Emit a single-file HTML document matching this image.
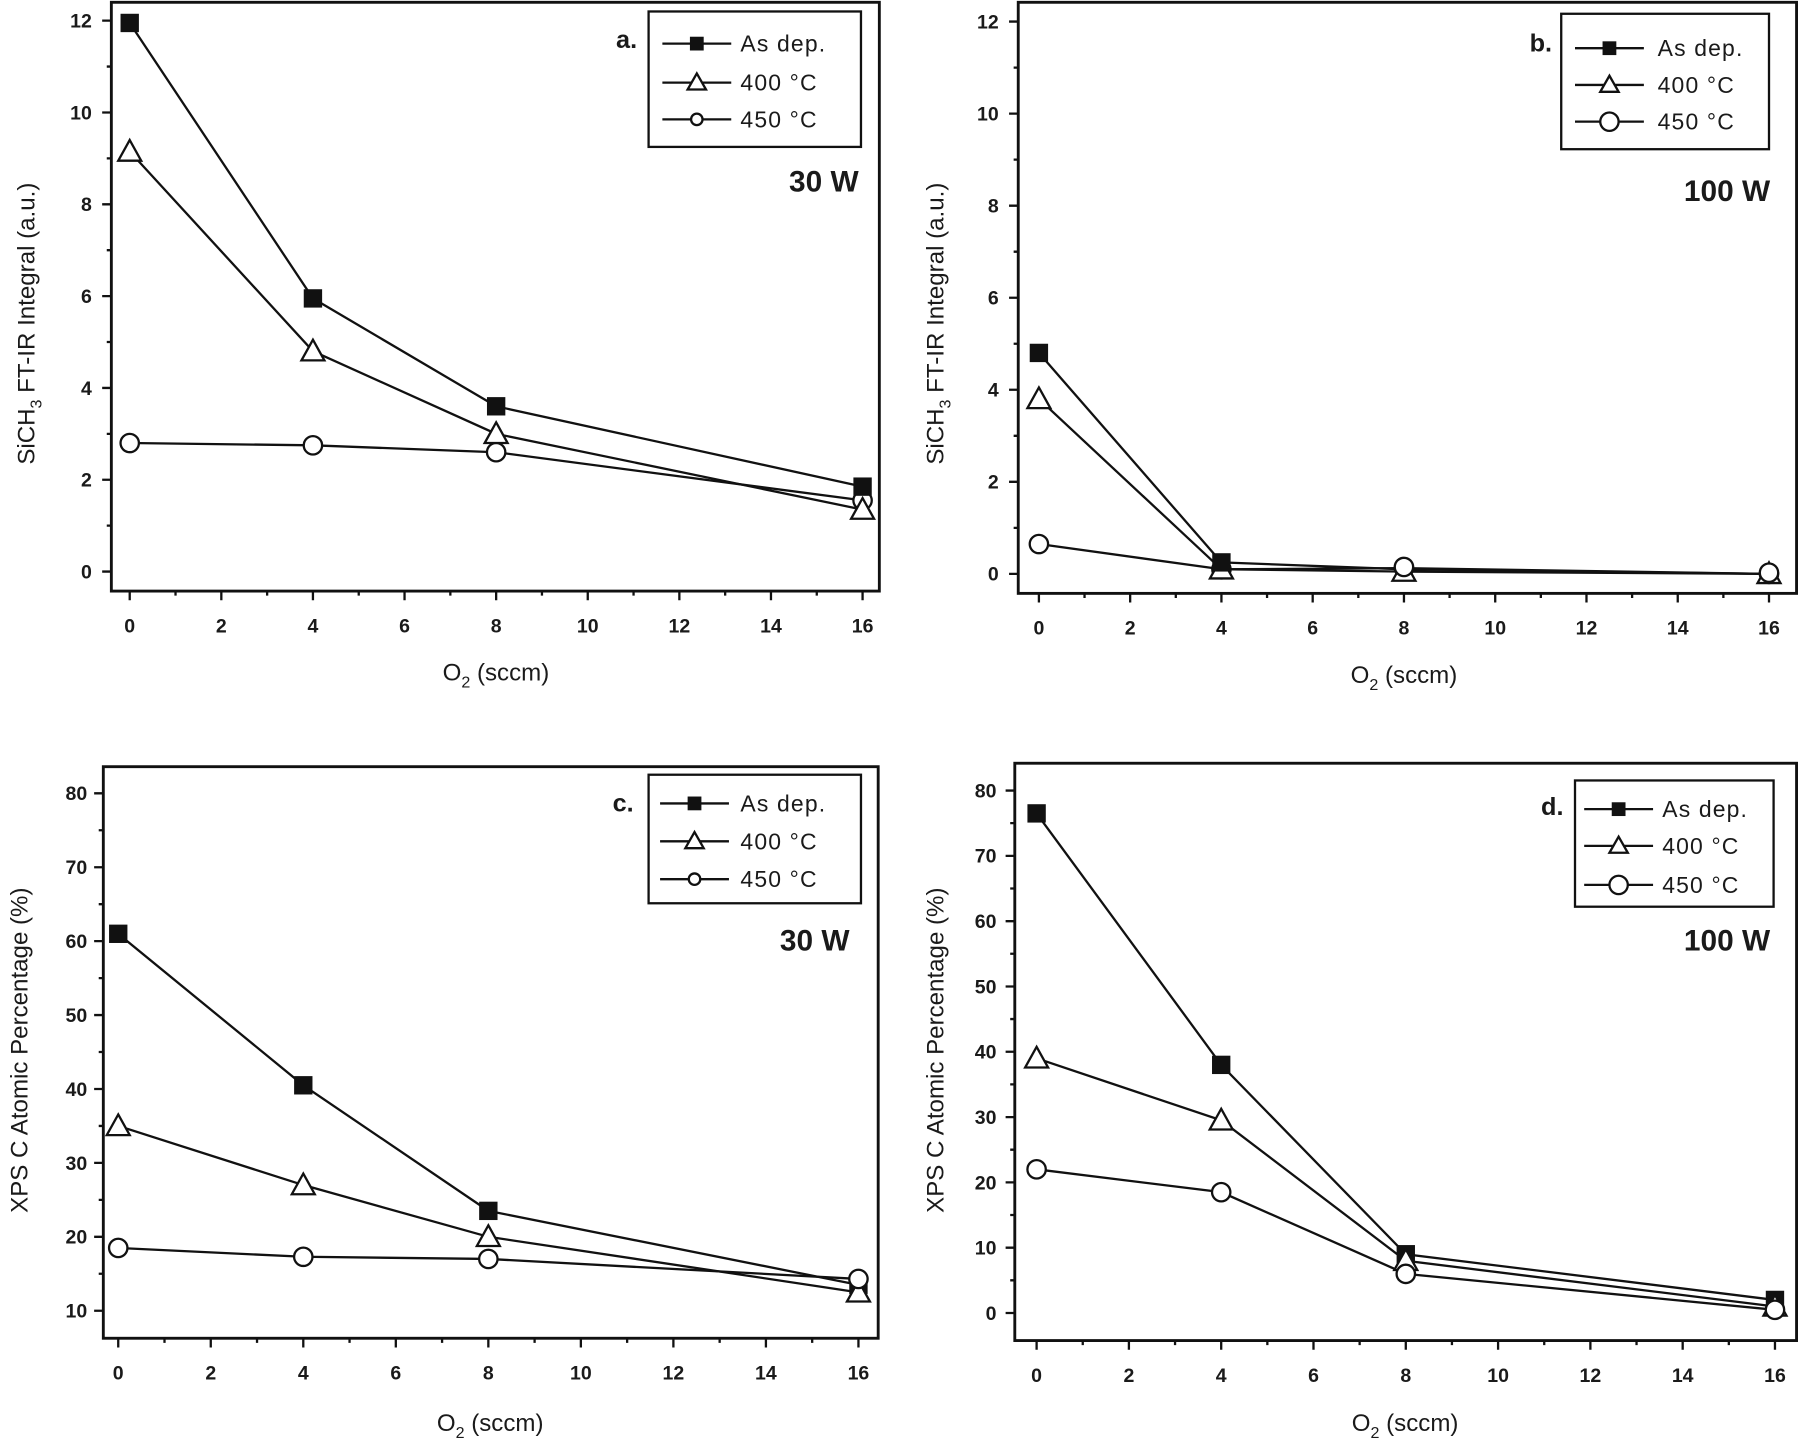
<!DOCTYPE html>
<html><head><meta charset="utf-8"><style>
html,body{margin:0;padding:0;background:#fff;}
svg{display:block;}
text{font-family:"Liberation Sans",sans-serif;fill:#1a1a1a;}
.t{font-size:17px;font-weight:bold;text-anchor:middle;}
.ty{font-size:17px;font-weight:bold;text-anchor:end;}
.ax{font-size:21px;text-anchor:middle;}
.lg{font-size:20px;letter-spacing:1px;}
.pl{font-size:22px;font-weight:bold;text-anchor:end;}
.pw{font-size:26px;font-weight:bold;text-anchor:end;}
</style></head><body>
<svg width="1800" height="1445" viewBox="0 0 1568 1259" preserveAspectRatio="none" xmlns="http://www.w3.org/2000/svg">
<defs>
<rect id="sq" x="-8" y="-8" width="16" height="16" fill="#111"/>
<polygon id="tr" points="0,-10 10,8 -10,8" fill="#fff" stroke="#111" stroke-width="2"/>
<circle id="ci" r="8" fill="#fff" stroke="#111" stroke-width="2"/>
<rect id="sqs" x="-6" y="-6" width="12" height="12" fill="#111"/>
<polygon id="trs" points="0,-8 8,6 -8,6" fill="#fff" stroke="#111" stroke-width="2"/>
<circle id="cis" r="5" fill="#fff" stroke="#111" stroke-width="2"/>
</defs>
<g fill="none" stroke="#111" stroke-width="2">
<rect x="97" y="2" width="669" height="513" stroke-width="2.5"/>
<rect x="887" y="2" width="678" height="515" stroke-width="2.5"/>
<rect x="90" y="668" width="675" height="498" stroke-width="2.5"/>
<rect x="884" y="665" width="681" height="503" stroke-width="2.5"/>
<path d="M113 515v8M192.8 515v8M272.6 515v8M352.4 515v8M432.2 515v8M512 515v8M591.8 515v8M671.6 515v8M751.4 515v8M152.9 515v4M232.7 515v4M312.5 515v4M392.3 515v4M472.1 515v4M551.9 515v4M631.7 515v4M711.5 515v4
M97 498h-8M97 418h-8M97 338h-8M97 258h-8M97 178h-8M97 98h-8M97 18h-8M97 458h-4M97 378h-4M97 298h-4M97 218h-4M97 138h-4M97 58h-4"/>
<path d="M905 517v8M984.5 517v8M1064 517v8M1143.5 517v8M1223 517v8M1302.5 517v8M1382 517v8M1461.5 517v8M1541 517v8M944.75 517v4M1024.25 517v4M1103.75 517v4M1183.25 517v4M1262.75 517v4M1342.25 517v4M1421.75 517v4M1501.25 517v4
M887 500h-8M887 419.8h-8M887 339.6h-8M887 259.4h-8M887 179.2h-8M887 99h-8M887 18.8h-8M887 459.9h-4M887 379.7h-4M887 299.5h-4M887 219.3h-4M887 139.1h-4M887 58.9h-4"/>
<path d="M103 1166v8M183.6 1166v8M264.2 1166v8M344.8 1166v8M425.4 1166v8M506 1166v8M586.6 1166v8M667.2 1166v8M747.8 1166v8M143.3 1166v4M223.9 1166v4M304.5 1166v4M385.1 1166v4M465.7 1166v4M546.3 1166v4M626.9 1166v4M707.5 1166v4
M90 1142h-8M90 1077.6h-8M90 1013.2h-8M90 948.8h-8M90 884.4h-8M90 820h-8M90 755.6h-8M90 691.2h-8M90 1109.8h-4M90 1045.4h-4M90 981h-4M90 916.6h-4M90 852.2h-4M90 787.8h-4M90 723.4h-4"/>
<path d="M903 1168v8M983.4 1168v8M1063.8 1168v8M1144.2 1168v8M1224.6 1168v8M1305 1168v8M1385.4 1168v8M1465.8 1168v8M1546.2 1168v8M943.2 1168v4M1023.6 1168v4M1104 1168v4M1184.4 1168v4M1264.8 1168v4M1345.2 1168v4M1425.6 1168v4M1506 1168v4
M884 1144h-8M884 1087.1h-8M884 1030.2h-8M884 973.3h-8M884 916.4h-8M884 859.5h-8M884 802.6h-8M884 745.7h-8M884 688.8h-8M884 1115.5h-4M884 1058.6h-4M884 1001.7h-4M884 944.8h-4M884 887.9h-4M884 831h-4M884 774.1h-4M884 717.2h-4"/>
<rect x="565" y="10" width="185" height="118"/>
<rect x="1360" y="12" width="181" height="118"/>
<rect x="565" y="675" width="185" height="112"/>
<rect x="1372" y="680" width="173" height="110"/>
<path d="M577 38h60M577 72h60M577 104h60M1372 42h60M1372 74h60M1372 106h60M575 700h60M575 733h60M575 766h60M1380 705h60M1380 737h60M1380 771h60"/>
<polyline points="113,20 272.6,260 432.2,354 751.4,424"/>
<polyline points="113,132 272.6,306 432.2,378 751.4,444"/>
<polyline points="113,386 272.6,388 432.2,394 751.4,436"/>
<polyline points="905,307.5 1064,490 1223,496 1541,500"/>
<polyline points="905,347.6 1064,496 1223,498 1541,500"/>
<polyline points="905,474 1064,496 1223,495 1541,500"/>
<polyline points="103,813.6 264.2,945.6 425.4,1055 747.8,1119.5"/>
<polyline points="103,981 264.2,1032.5 425.4,1077.6 747.8,1126"/>
<polyline points="103,1087.3 264.2,1095 425.4,1096.9 747.8,1114.3"/>
<polyline points="903,708.7 1063.8,927.8 1224.6,1092.8 1546.2,1132.6"/>
<polyline points="903,922.1 1063.8,976.1 1224.6,1098.5 1546.2,1138.3"/>
<polyline points="903,1018.8 1063.8,1038.7 1224.6,1109.9 1546.2,1141.2"/>
</g>
<use href="#ci" x="113" y="386"/><use href="#ci" x="272.6" y="388"/><use href="#ci" x="432.2" y="394"/><use href="#ci" x="751.4" y="436"/>
<use href="#tr" x="113" y="132"/><use href="#tr" x="272.6" y="306"/><use href="#tr" x="432.2" y="378"/><use href="#tr" x="751.4" y="444"/>
<use href="#sq" x="113" y="20"/><use href="#sq" x="272.6" y="260"/><use href="#sq" x="432.2" y="354"/><use href="#sq" x="751.4" y="424"/>
<use href="#ci" x="905" y="474"/><use href="#ci" x="1064" y="496"/><use href="#ci" x="1223" y="495"/><use href="#ci" x="1541" y="500"/>
<use href="#tr" x="905" y="347.6"/><use href="#tr" x="1064" y="496"/><use href="#tr" x="1223" y="498"/><use href="#tr" x="1541" y="500"/>
<use href="#sq" x="905" y="307.5"/><use href="#sq" x="1064" y="490"/>
<use href="#ci" x="1223" y="494"/><use href="#ci" x="1541" y="499"/>
<use href="#sq" x="103" y="813.6"/><use href="#sq" x="264.2" y="945.6"/><use href="#sq" x="425.4" y="1055"/><use href="#sq" x="747.8" y="1119.5"/>
<use href="#tr" x="103" y="981"/><use href="#tr" x="264.2" y="1032.5"/><use href="#tr" x="425.4" y="1077.6"/><use href="#tr" x="747.8" y="1126"/>
<use href="#ci" x="103" y="1087.3"/><use href="#ci" x="264.2" y="1095"/><use href="#ci" x="425.4" y="1096.9"/><use href="#ci" x="747.8" y="1114.3"/>
<use href="#sq" x="903" y="708.7"/><use href="#sq" x="1063.8" y="927.8"/><use href="#sq" x="1224.6" y="1092.8"/><use href="#sq" x="1546.2" y="1132.6"/>
<use href="#tr" x="903" y="922.1"/><use href="#tr" x="1063.8" y="976.1"/><use href="#tr" x="1224.6" y="1098.5"/><use href="#tr" x="1546.2" y="1138.3"/>
<use href="#ci" x="903" y="1018.8"/><use href="#ci" x="1063.8" y="1038.7"/><use href="#ci" x="1224.6" y="1109.9"/><use href="#ci" x="1546.2" y="1141.2"/>
<use href="#sqs" x="607" y="38"/><use href="#trs" x="607" y="72"/><use href="#cis" x="607" y="104"/>
<use href="#sqs" x="1402" y="42"/><use href="#trs" x="1402" y="74"/><use href="#ci" x="1402" y="106"/>
<use href="#sqs" x="605" y="700"/><use href="#trs" x="605" y="733"/><use href="#cis" x="605" y="766"/>
<use href="#sqs" x="1410" y="705"/><use href="#trs" x="1410" y="737"/><use href="#ci" x="1410" y="771"/>
<text class="lg" x="645" y="45">As dep.</text><text class="lg" x="645" y="79">400 °C</text><text class="lg" x="645" y="111">450 °C</text>
<text class="lg" x="1444" y="49">As dep.</text><text class="lg" x="1444" y="81">400 °C</text><text class="lg" x="1444" y="113">450 °C</text>
<text class="lg" x="645" y="707">As dep.</text><text class="lg" x="645" y="740">400 °C</text><text class="lg" x="645" y="773">450 °C</text>
<text class="lg" x="1448" y="712">As dep.</text><text class="lg" x="1448" y="744">400 °C</text><text class="lg" x="1448" y="778">450 °C</text>
<text class="pl" x="555" y="42">a.</text><text class="pw" x="748" y="167">30 W</text>
<text class="pl" x="1352" y="45">b.</text><text class="pw" x="1542" y="175">100 W</text>
<text class="pl" x="552" y="707">c.</text><text class="pw" x="740" y="828">30 W</text>
<text class="pl" x="1362" y="710">d.</text><text class="pw" x="1542" y="828">100 W</text>
<text class="t" x="113" y="551">0</text><text class="t" x="192.8" y="551">2</text><text class="t" x="272.6" y="551">4</text><text class="t" x="352.4" y="551">6</text><text class="t" x="432.2" y="551">8</text><text class="t" x="512" y="551">10</text><text class="t" x="591.8" y="551">12</text><text class="t" x="671.6" y="551">14</text><text class="t" x="751.4" y="551">16</text>
<text class="t" x="905" y="553">0</text><text class="t" x="984.5" y="553">2</text><text class="t" x="1064" y="553">4</text><text class="t" x="1143.5" y="553">6</text><text class="t" x="1223" y="553">8</text><text class="t" x="1302.5" y="553">10</text><text class="t" x="1382" y="553">12</text><text class="t" x="1461.5" y="553">14</text><text class="t" x="1541" y="553">16</text>
<text class="t" x="103" y="1202">0</text><text class="t" x="183.6" y="1202">2</text><text class="t" x="264.2" y="1202">4</text><text class="t" x="344.8" y="1202">6</text><text class="t" x="425.4" y="1202">8</text><text class="t" x="506" y="1202">10</text><text class="t" x="586.6" y="1202">12</text><text class="t" x="667.2" y="1202">14</text><text class="t" x="747.8" y="1202">16</text>
<text class="t" x="903" y="1204">0</text><text class="t" x="983.4" y="1204">2</text><text class="t" x="1063.8" y="1204">4</text><text class="t" x="1144.2" y="1204">6</text><text class="t" x="1224.6" y="1204">8</text><text class="t" x="1305" y="1204">10</text><text class="t" x="1385.4" y="1204">12</text><text class="t" x="1465.8" y="1204">14</text><text class="t" x="1546.2" y="1204">16</text>
<text class="ty" x="80" y="504">0</text><text class="ty" x="80" y="424">2</text><text class="ty" x="80" y="344">4</text><text class="ty" x="80" y="264">6</text><text class="ty" x="80" y="184">8</text><text class="ty" x="80" y="104">10</text><text class="ty" x="80" y="24">12</text>
<text class="ty" x="870" y="506">0</text><text class="ty" x="870" y="425.8">2</text><text class="ty" x="870" y="345.6">4</text><text class="ty" x="870" y="265.4">6</text><text class="ty" x="870" y="185.2">8</text><text class="ty" x="870" y="105">10</text><text class="ty" x="870" y="24.8">12</text>
<text class="ty" x="76" y="1148">10</text><text class="ty" x="76" y="1083.6">20</text><text class="ty" x="76" y="1019.2">30</text><text class="ty" x="76" y="954.8">40</text><text class="ty" x="76" y="890.4">50</text><text class="ty" x="76" y="826">60</text><text class="ty" x="76" y="761.6">70</text><text class="ty" x="76" y="697.2">80</text>
<text class="ty" x="868" y="1150">0</text><text class="ty" x="868" y="1093.1">10</text><text class="ty" x="868" y="1036.2">20</text><text class="ty" x="868" y="979.3">30</text><text class="ty" x="868" y="922.4">40</text><text class="ty" x="868" y="865.5">50</text><text class="ty" x="868" y="808.6">60</text><text class="ty" x="868" y="751.7">70</text><text class="ty" x="868" y="694.8">80</text>
<text class="ax" x="432" y="593">O<tspan font-size="14" dy="6">2</tspan><tspan dy="-6"> (sccm)</tspan></text>
<text class="ax" x="1223" y="595">O<tspan font-size="14" dy="6">2</tspan><tspan dy="-6"> (sccm)</tspan></text>
<text class="ax" x="427" y="1247">O<tspan font-size="14" dy="6">2</tspan><tspan dy="-6"> (sccm)</tspan></text>
<text class="ax" x="1224" y="1247">O<tspan font-size="14" dy="6">2</tspan><tspan dy="-6"> (sccm)</tspan></text>
<text class="ax" transform="translate(30,282) rotate(-90)">SiCH<tspan font-size="14" dy="6">3</tspan><tspan dy="-6"> FT-IR Integral (a.u.)</tspan></text>
<text class="ax" transform="translate(822,282) rotate(-90)">SiCH<tspan font-size="14" dy="6">3</tspan><tspan dy="-6"> FT-IR Integral (a.u.)</tspan></text>
<text class="ax" transform="translate(24,915) rotate(-90)">XPS C Atomic Percentage (%)</text>
<text class="ax" transform="translate(822,915) rotate(-90)">XPS C Atomic Percentage (%)</text>
</svg>
</body></html>
